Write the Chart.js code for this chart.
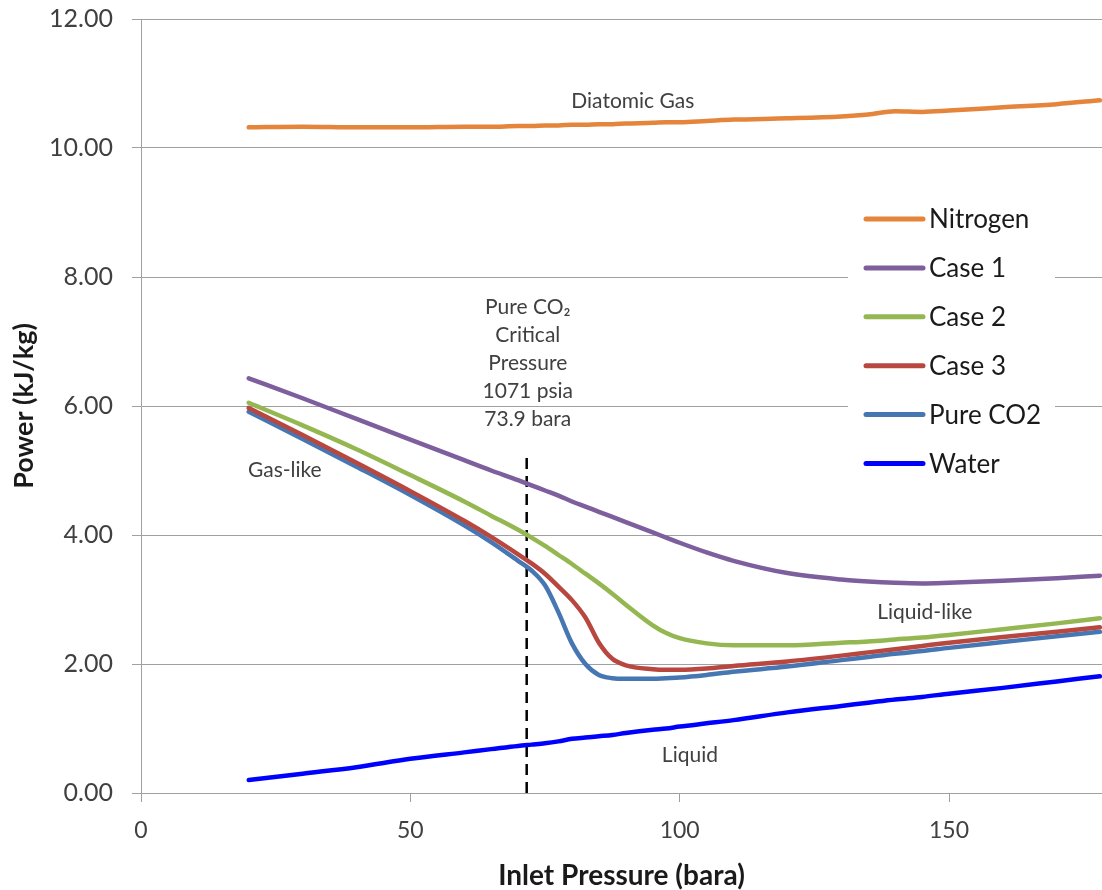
<!DOCTYPE html>
<html lang="en">

<head>
    <meta charset="UTF-8">
    <title>Power vs Inlet Pressure</title>
    <script src="https://cdn.jsdelivr.net/npm/chart.js"></script>
    <style>
        body {
            margin: 0;
            background: #ffffff;
        }

        canvas {
            display: block;
        }
    </style>
</head>

<body>
    <canvas id="powerChart" width="1102" height="890"></canvas>

    <script>
        // Inlet pressure (bara) sample points, shared by all series
        const pressure = [20, 30, 40, 50, 60, 65, 70, 72.5, 75, 77.5, 80, 82.5, 85, 87.5, 90, 95, 97.5, 100, 105, 110, 120, 130, 135, 140, 145, 150, 160, 170, 178];

        // Power (kJ/kg)
        const nitrogen = [10.32, 10.33, 10.32, 10.32, 10.33, 10.33, 10.34, 10.34, 10.35, 10.35, 10.36, 10.36, 10.37, 10.37, 10.38, 10.39, 10.40, 10.40, 10.42, 10.44, 10.46, 10.49, 10.52, 10.57, 10.56, 10.58, 10.63, 10.68, 10.74];
        const case1 = [6.43, 6.12, 5.80, 5.48, 5.16, 5.00, 4.85, 4.77, 4.69, 4.61, 4.52, 4.44, 4.36, 4.28, 4.20, 4.04, 3.96, 3.88, 3.73, 3.60, 3.41, 3.31, 3.28, 3.26, 3.25, 3.26, 3.29, 3.33, 3.37];
        const case2 = [6.05, 5.70, 5.33, 4.93, 4.52, 4.30, 4.08, 3.96, 3.83, 3.69, 3.55, 3.40, 3.25, 3.09, 2.92, 2.60, 2.48, 2.40, 2.32, 2.29, 2.29, 2.33, 2.35, 2.38, 2.41, 2.45, 2.54, 2.63, 2.71];
        const case3 = [5.97, 5.55, 5.12, 4.68, 4.22, 3.97, 3.70, 3.56, 3.40, 3.20, 2.99, 2.72, 2.33, 2.08, 1.98, 1.92, 1.91, 1.91, 1.93, 1.97, 2.04, 2.13, 2.18, 2.23, 2.28, 2.33, 2.42, 2.50, 2.57];
        const pureCO2 = [5.91, 5.49, 5.06, 4.62, 4.15, 3.89, 3.60, 3.45, 3.22, 2.80, 2.32, 2.00, 1.83, 1.78, 1.77, 1.77, 1.78, 1.79, 1.83, 1.88, 1.96, 2.06, 2.11, 2.16, 2.20, 2.25, 2.34, 2.43, 2.50];
        const water = [0.20, 0.30, 0.40, 0.53, 0.63, 0.68, 0.73, 0.75, 0.77, 0.80, 0.84, 0.86, 0.88, 0.90, 0.93, 0.98, 1.00, 1.03, 1.08, 1.13, 1.25, 1.35, 1.40, 1.45, 1.49, 1.54, 1.63, 1.73, 1.81];

        const seriesNames = ['Nitrogen', 'Case 1', 'Case 2', 'Case 3', 'Pure CO2', 'Water'];
        const seriesValues = [nitrogen, case1, case2, case3, pureCO2, water];

        // dashed marker for the CO2 critical pressure
        const criticalX = [71.6, 71.6];
        const criticalY = [0, 5.24];

        const xTicks = [0, 50, 100, 150];

        const colors = ['#E5843B', '#7D5F9E', '#94B752', '#B8473F', '#4677B2', '#0000FF'];
        const textColor = '#404040';
        const fontFamily = 'Lato, "Open Sans", sans-serif';

        const datasets = seriesNames.map((name, i) => ({
            label: name,
            data: pressure.map((p, j) => ({ x: p, y: seriesValues[i][j] })),
            borderColor: colors[i],
            backgroundColor: colors[i],
            borderWidth: 4.5,
            borderCapStyle: 'round',
            borderJoinStyle: 'round',
            pointRadius: 0,
            cubicInterpolationMode: 'monotone',
            fill: false
        }));

        datasets.push({
            label: 'critical',
            data: criticalX.map((x, j) => ({ x: x, y: criticalY[j] })),
            borderColor: '#000000',
            borderWidth: 2.5,
            borderDash: [11, 7],
            pointRadius: 0,
            fill: false
        });

        // free text on the plot, placed in data coordinates
        const notes = [
            { text: ['Diatomic Gas'], x: 91.3, y: 10.73 },
            { text: ['Pure CO\u2082', 'Critical', 'Pressure', '1071 psia', '73.9 bara'], x: 71.8, y: 7.53 },
            { text: ['Gas-like'], x: 26.7, y: 5.01 },
            { text: ['Liquid-like'], x: 145.5, y: 2.81 },
            { text: ['Liquid'], x: 101.9, y: 0.59 }
        ];

        const notesPlugin = {
            id: 'notes',
            afterDatasetsDraw(chart) {
                const { ctx, scales } = chart;
                ctx.save();
                ctx.fillStyle = textColor;
                ctx.font = '21px ' + fontFamily;
                ctx.textAlign = 'center';
                ctx.textBaseline = 'middle';
                notes.forEach(n => {
                    const px = scales.x.getPixelForValue(n.x);
                    const py = scales.y.getPixelForValue(n.y);
                    n.text.forEach((line, k) => ctx.fillText(line, px, py + k * 28));
                });
                ctx.restore();
            }
        };

        // legend sits inside the plot, on a white box over the grid
        const legendPlugin = {
            id: 'insideLegend',
            beforeDatasetsDraw(chart) {
                const { ctx, chartArea } = chart;
                const left = chartArea.right - 254;
                const top = chartArea.top + 176;
                ctx.save();
                ctx.fillStyle = '#ffffff';
                ctx.fillRect(left, top, 207, 292);
                ctx.font = '26px ' + fontFamily;
                ctx.textBaseline = 'middle';
                ctx.lineCap = 'round';
                ctx.lineWidth = 5;
                seriesNames.forEach((name, i) => {
                    const y = top + 24 + i * 48.9;
                    ctx.strokeStyle = colors[i];
                    ctx.beginPath();
                    ctx.moveTo(left + 18, y);
                    ctx.lineTo(left + 75, y);
                    ctx.stroke();
                    ctx.fillStyle = '#1a1a1a';
                    ctx.fillText(name, left + 81, y + 1);
                });
                ctx.restore();
            }
        };

        const ctx = document.getElementById('powerChart').getContext('2d');

        new Chart(ctx, {
            type: 'line',
            data: { datasets: datasets },
            options: {
                responsive: false,
                animation: false,
                devicePixelRatio: 1,
                layout: { padding: { top: 19, right: 0, left: 0, bottom: 0 } },
                plugins: {
                    legend: { display: false },
                    tooltip: { enabled: false }
                },
                scales: {
                    x: {
                        type: 'linear',
                        min: 0,
                        max: 178.4,
                        afterBuildTicks: scale => {
                            scale.ticks = xTicks.map(v => ({ value: v }));
                        },
                        afterFit: scale => {
                            scale.height = 97;
                            scale.paddingLeft = 0;
                            scale.paddingRight = 0;
                        },
                        ticks: {
                            color: textColor,
                            font: { family: fontFamily, size: 23 },
                            padding: 15,
                            maxRotation: 0
                        },
                        grid: {
                            drawOnChartArea: false,
                            drawTicks: true,
                            tickLength: 9,
                            color: '#a0a0a0'
                        },
                        border: { color: '#a0a0a0' },
                        title: {
                            display: true,
                            text: 'Inlet Pressure (bara)',
                            color: '#1a1a1a',
                            font: { family: fontFamily, size: 28, weight: 'bold' },
                            padding: { top: 0, bottom: -3 }
                        }
                    },
                    y: {
                        min: 0,
                        max: 12,
                        afterFit: scale => {
                            scale.width = 141;
                            scale.paddingTop = 0;
                            scale.paddingBottom = 0;
                        },
                        ticks: {
                            stepSize: 2,
                            color: textColor,
                            font: { family: fontFamily, size: 25 },
                            padding: 19,
                            callback: v => v.toFixed(2)
                        },
                        grid: {
                            color: '#a0a0a0',
                            tickLength: 9
                        },
                        border: { color: '#a0a0a0' },
                        title: {
                            display: true,
                            text: 'Power (kJ/kg)',
                            color: '#1a1a1a',
                            font: { family: fontFamily, size: 27, weight: 'bold' },
                            padding: { top: 8, bottom: 0 }
                        }
                    }
                }
            },
            plugins: [legendPlugin, notesPlugin]
        });
    </script>
</body>

</html>
